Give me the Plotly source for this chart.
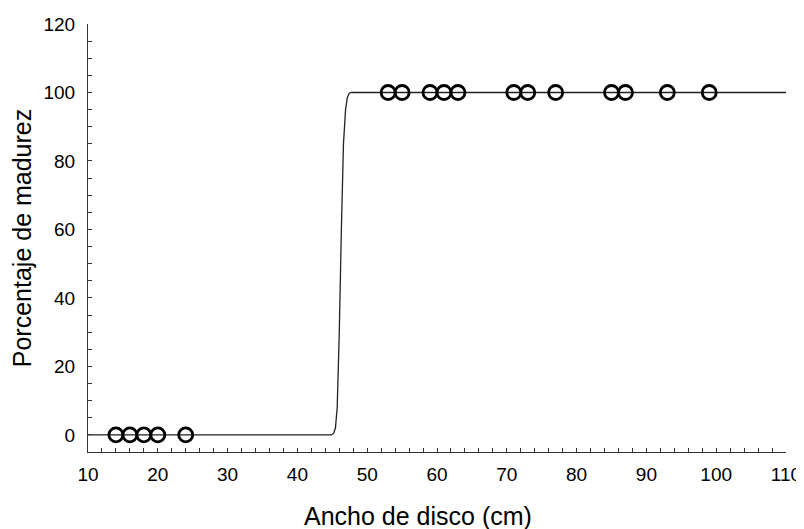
import plotly.graph_objects as go

# Observed data
obs_x_immature = [14, 16, 18, 20, 24]
obs_y_immature = [0, 0, 0, 0, 0]
obs_x_mature = [53, 55, 59, 61, 63, 71, 73, 77, 85, 87, 93, 99]
obs_y_mature = [100] * 12

# Fitted curve
curve_x = [10, 44.9, 45.2, 45.45, 45.7, 46.0, 46.3, 46.6, 46.9, 47.15, 47.4, 47.7, 110]
curve_y = [0, 0, 0.5, 2, 8, 30, 60, 85, 95, 98.5, 99.7, 100, 100]

x_tickvals = [10, 20, 30, 40, 50, 60, 70, 80, 90, 100, 110]
y_tickvals = [0, 20, 40, 60, 80, 100, 120]

x_title = "Ancho de disco (cm)"
y_title = "Porcentaje de madurez"

fig = go.Figure()
fig.add_trace(go.Scatter(x=curve_x, y=curve_y, mode="lines",
                         line=dict(color="#222222", width=1.3),
                         showlegend=False, hoverinfo="skip"))
fig.add_trace(go.Scatter(x=obs_x_immature + obs_x_mature,
                         y=obs_y_immature + obs_y_mature, mode="markers",
                         marker=dict(symbol="circle-open", size=14, color="black",
                                     line=dict(width=2.8, color="black")),
                         showlegend=False, cliponaxis=False))

font = "Liberation Sans, Arial, sans-serif"
fig.update_layout(
    width=796, height=521,
    margin=dict(l=80, r=18, t=16, b=77),
    paper_bgcolor="white", plot_bgcolor="white",
    font=dict(family=font, color="black", size=19),
    xaxis=dict(range=[10, 110], tickvals=x_tickvals, ticks="inside", ticklen=4,
               tickcolor="#333", showgrid=False, zeroline=False, showline=True,
               linecolor="#333", linewidth=1, automargin=False,
               minor=dict(dtick=2, tick0=10, ticks="inside", ticklen=4, tickcolor="#333"),
               tickfont=dict(size=19, family=font), ticklabelstandoff=5),
    yaxis=dict(range=[-5, 120], tickvals=y_tickvals, ticks="inside", ticklen=4,
               tickcolor="#333", showgrid=False, zeroline=False, showline=True,
               linecolor="#333", linewidth=1, automargin=False,
               minor=dict(dtick=5, tick0=0, ticks="inside", ticklen=4, tickcolor="#333"),
               tickfont=dict(size=19, family=font), ticklabelstandoff=8,
               title=dict(text=y_title, font=dict(size=25, family=font), standoff=6)),
    annotations=[dict(text=x_title, xref="paper", yref="paper", x=0.4728, y=-0.1495,
                      xanchor="center", yanchor="middle", showarrow=False,
                      font=dict(size=25, family=font, color="black"))],
)

fig.write_html("out.html")
